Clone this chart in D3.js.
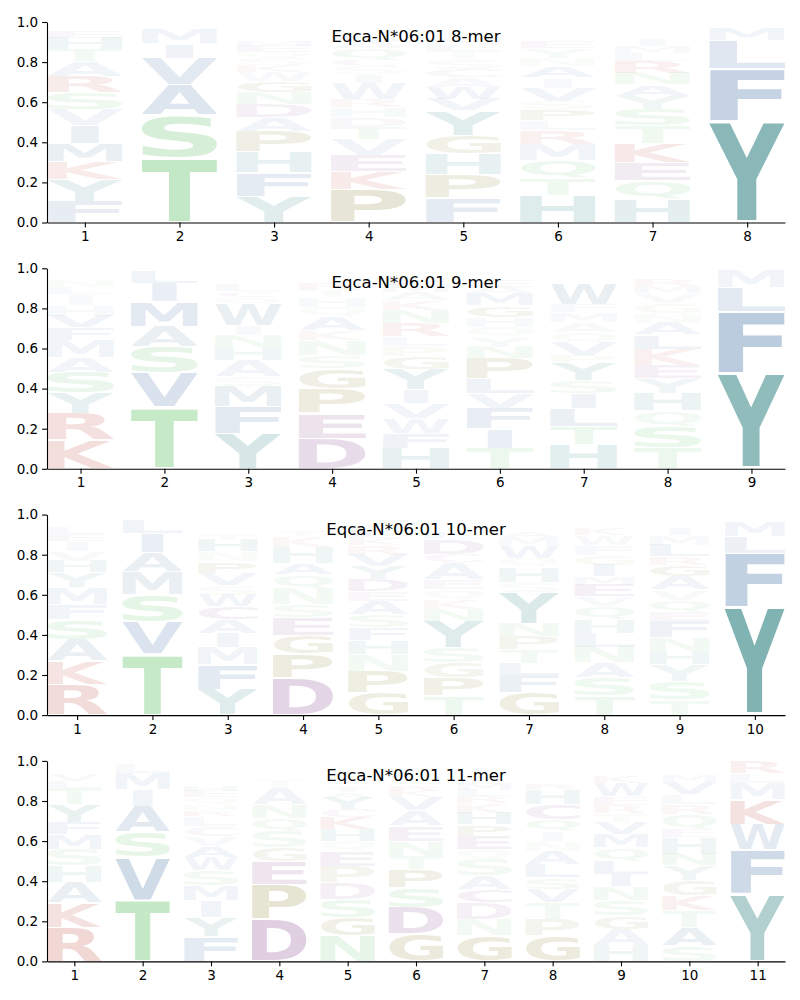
<!DOCTYPE html>
<html><head><meta charset="utf-8">
<script src="https://cdn.jsdelivr.net/npm/d3@7"></script>
<style>body{margin:0;background:#fff} svg text{font-family:"DejaVu Sans",sans-serif}</style>
</head><body><svg id="c" width="800" height="1000"></svg>
<script>
// ---- data: letters per position (bottom -> top) and their heights ----
const titles = ["Eqca-N*06:01 8-mer","Eqca-N*06:01 9-mer","Eqca-N*06:01 10-mer","Eqca-N*06:01 11-mer"];
const yTicks = [0,0.2,0.4,0.6,0.8,1.0];

const mer8Letters = ["FYKMIVSRATHEWQ","TSAVIMLNQ","YFHPADNGWKSQEMLRTCI","PKEVTDHRWISCQALMNF","FPHGYVWACSTLMNIKQ","HTQMRLPSVIANYEKGFCW","HQEKTSYANRLMIVFGW","YFLMRK"];
const mer8Heights = [
 [.106,.11,.088,.09,.09,.08,.083,.083,.075,.058,.058,.033,.025,.02],
 [.323,.214,.151,.133,.07,.075,.015,.01,.008],
 [.131,.118,.103,.101,.07,.066,.058,.058,.045,.033,.035,.03,.03,.028,.025,.02,.02,.015,.012],
 [.166,.09,.08,.078,.06,.05,.05,.04,.083,.04,.04,.033,.058,.035,.03,.025,.02,.014],
 [.123,.118,.103,.09,.124,.058,.058,.05,.04,.05,.04,.035,.03,.025,.02,.015,.015],
 [.136,.083,.09,.083,.066,.05,.058,.04,.066,.05,.058,.04,.05,.03,.025,.025,.02,.015,.01],
 [.114,.095,.09,.094,.088,.083,.066,.058,.058,.058,.04,.035,.03,.025,.025,.02,.015],
 [.504,.262,.141,.058,.025,.01]
];
const mer9Letters = ["KRYSAMFVHILNETQ","TVSAMILQ","YFMSAHNIWQCLRTVE","DEPGSNKAQHTRLMVF","HFWVIYGPLRNKAMETQ","TIFVLPNYQHGMAEKRS","HTLISYPVQAMFWENRG","TSQHYEKLANGVMRFIC","YFLMK"];
const mer9Heights = [
 [.144,.133,.1,.104,.075,.086,.063,.058,.053,.055,.035,.03,.025,.02,.014],
 [.307,.169,.133,.1,.124,.093,.063,.007],
 [.174,.135,.103,.046,.083,.066,.058,.05,.108,.035,.03,.03,.025,.02,.02,.014],
 [.153,.124,.124,.1,.066,.075,.05,.066,.05,.05,.033,.03,.025,.02,.018,.014],
 [.103,.075,.075,.075,.066,.1,.066,.05,.05,.066,.066,.05,.04,.035,.03,.025,.02],
 [.103,.096,.1,.075,.075,.1,.058,.05,.05,.05,.058,.058,.035,.03,.025,.02,.014],
 [.12,.09,.09,.075,.066,.09,.033,.066,.05,.05,.05,.041,.1,.025,.02,.017,.013],
 [.103,.108,.078,.088,.075,.066,.08,.07,.058,.05,.05,.05,.035,.03,.025,.018,.012],
 [.476,.307,.124,.088,.005]
];
const mer10Letters = ["RKASFMYHVIELNGQ","TVSMAILQ","YFMIACWSVPNHTQLREG","DPGESNQAHKTRLMVF","GPNHFSAEDYVRKLMITQ","TPGSYNKQEACDLMVHRF","GFLTPNYSHQWMAEKRDV","TSANLHQVEMIGFWKRYD","TSYHNFEQVAGRLMIKWP","YFLMRK"];
const mer10Heights = [
 [.153,.116,.108,.1,.075,.083,.075,.058,.05,.05,.035,.03,.025,.022,.018],
 [.305,.161,.136,.113,.095,.096,.066,.025],
 [.128,.124,.086,.071,.066,.066,.058,.05,.058,.058,.05,.058,.03,.025,.025,.02,.014,.01],
 [.186,.12,.091,.088,.066,.083,.066,.058,.078,.055,.03,.025,.02,.015,.01,.007],
 [.111,.108,.083,.07,.063,.066,.066,.05,.058,.066,.058,.05,.035,.03,.03,.02,.02,.015],
 [.095,.091,.075,.075,.133,.058,.05,.05,.05,.083,.041,.075,.03,.025,.025,.02,.014,.01],
 [.111,.09,.058,.066,.066,.066,.157,.05,.075,.041,.06,.048,.03,.025,.02,.015,.01,.008],
 [.095,.091,.075,.078,.071,.066,.066,.05,.058,.041,.058,.05,.05,.05,.03,.025,.025,.02],
 [.078,.091,.083,.066,.07,.08,.046,.061,.05,.066,.058,.041,.058,.05,.03,.025,.025,.02],
 [.537,.27,.083,.075,.02,.013]
];
const mer11Letters = ["RKAHSMFYTLVINEQ","TVSAIMLQ","FYIMSWAVCLRNQEHKGPTD","DPEGSQNATKLRHMV","NGSDPEQHKCYATRLMVIF","GDSPTNEAVKRQHLMIYF","GNDCASQEPHKRLMVTYFW","GPTVSLANIQCHRYEMKFW","HAGSNILQMVTREWKYFPD","SATKGYNHEQRLVMIFWDP","YFWKMLR"];
const mer11Heights = [
 [.169,.124,.1,.083,.083,.075,.058,.091,.083,.035,.03,.025,.02,.013,.008],
 [.308,.212,.126,.128,.083,.083,.045,.015],
 [.123,.096,.083,.075,.075,.066,.058,.05,.05,.05,.03,.028,.035,.03,.03,.025,.025,.025,.02,.02],
 [.21,.174,.113,.07,.083,.066,.066,.083,.04,.025,.02,.015,.012,.01,.009],
 [.128,.091,.091,.083,.083,.075,.05,.058,.058,.041,.058,.03,.03,.025,.025,.02,.02,.015,.015],
 [.136,.133,.1,.091,.066,.075,.075,.075,.066,.03,.03,.025,.025,.02,.015,.015,.01,.01],
 [.128,.083,.083,.066,.066,.083,.05,.066,.058,.058,.05,.035,.03,.03,.025,.025,.025,.02,.017],
 [.128,.083,.083,.066,.058,.066,.066,.05,.05,.058,.075,.075,.03,.025,.025,.02,.015,.015,.01],
 [.078,.083,.066,.075,.07,.063,.066,.066,.066,.058,.05,.04,.043,.066,.03,.025,.02,.017,.015],
 [.078,.091,.083,.075,.075,.075,.058,.083,.041,.075,.05,.05,.058,.03,.025,.02,.015,.01,.007],
 [.335,.22,.128,.124,.083,.05,.058]
];

// residue colour groups
const groupColors = {hydrophobic:"#225794", aromatic:"#177272", polar:"#44b74b", acidic:"#691d73", basic:"#aa1a07", special:"#6e6400"};
const residueGroup = {A:"hydrophobic",V:"hydrophobic",L:"hydrophobic",I:"hydrophobic",M:"hydrophobic",F:"hydrophobic",W:"hydrophobic",
  Y:"aromatic",H:"aromatic",S:"polar",T:"polar",N:"polar",Q:"polar",D:"acidic",E:"acidic",C:"acidic",K:"basic",R:"basic",P:"special",G:"special"};

const panels = [
  {title:titles[0], letters:mer8Letters, heights:mer8Heights},
  {title:titles[1], letters:mer9Letters, heights:mer9Heights},
  {title:titles[2], letters:mer10Letters, heights:mer10Heights},
  {title:titles[3], letters:mer11Letters, heights:mer11Heights}
];

// ---- drawing ----
const svg = d3.select("#c");
const ctx = document.createElement("canvas").getContext("2d");
const FS = 100;
ctx.font = `bold ${FS}px "DejaVu Sans"`;
const metricCache = {};
function metric(ch){
  if(!metricCache[ch]){
    const t = ctx.measureText(ch);
    metricCache[ch] = {l:t.actualBoundingBoxLeft, r:t.actualBoundingBoxRight, a:t.actualBoundingBoxAscent, d:t.actualBoundingBoxDescent};
  }
  return metricCache[ch];
}
const mE = metric("E");
const eWidth = mE.l + mE.r;

const left = 47, right = 785, top0 = 22, step = 246.3, ph = 200.5;
const vpad = 0.05;

panels.forEach((p, i) => {
  const n = p.letters.length;
  const top = top0 + i*step, bottom = top + ph;
  const x = d3.scaleLinear().domain([0.6, n + 0.4]).range([left, right]);
  const y = d3.scaleLinear().domain([0, 1]).range([bottom, top]);
  const g = svg.append("g");

  p.letters.forEach((str, j) => {
    const pos = j + 1;
    let base = 0;
    [...str].forEach((ch, k) => {
      const h = p.heights[j][k];
      const pad = vpad * h / 2;
      const x0 = x(pos - 0.4), W = x(pos + 0.4) - x0;
      const yT = y(base + h - pad), yB = y(base + pad);
      const H = yB - yT;
      const mm = metric(ch);
      const iw = mm.l + mm.r, ih = mm.a + mm.d;
      const sx = W / Math.max(iw, eWidth);
      const sy = H / ih;
      const gx = x0 + (W - iw * sx) / 2;
      g.append("text").text(ch)
        .attr("font-size", FS).attr("font-weight", "bold")
        .attr("transform", `translate(${gx},${yT}) scale(${sx},${sy}) translate(${mm.l},${mm.a})`)
        .attr("fill", groupColors[residueGroup[ch]])
        .attr("fill-opacity", Math.min(1, h));
      base += h;
    });
  });

  const ya = g.append("g").attr("transform", `translate(${left},0)`)
    .call(d3.axisLeft(y).tickValues(yTicks).tickFormat(d3.format(".1f")).tickSize(4.9).tickSizeOuter(0).tickPadding(4));
  const xa = g.append("g").attr("transform", `translate(0,${bottom})`)
    .call(d3.axisBottom(x).tickValues(d3.range(1, n + 1)).tickFormat(d3.format("d")).tickSize(4.9).tickSizeOuter(0).tickPadding(4));
  [ya, xa].forEach(a => {
    a.attr("font-family", '"DejaVu Sans", sans-serif').attr("font-size", 13.5);
    a.selectAll("path.domain").attr("stroke", "#000").attr("stroke-width", 1.1);
    a.selectAll(".tick line").attr("stroke", "#000").attr("stroke-width", 1.1);
    a.selectAll(".tick text").attr("fill", "#000");
  });

  g.append("text").text(p.title)
    .attr("x", (left + right) / 2).attr("y", top + 20)
    .attr("text-anchor", "middle").attr("font-size", 16.5).attr("fill", "#000");
});
</script>
</body></html>
